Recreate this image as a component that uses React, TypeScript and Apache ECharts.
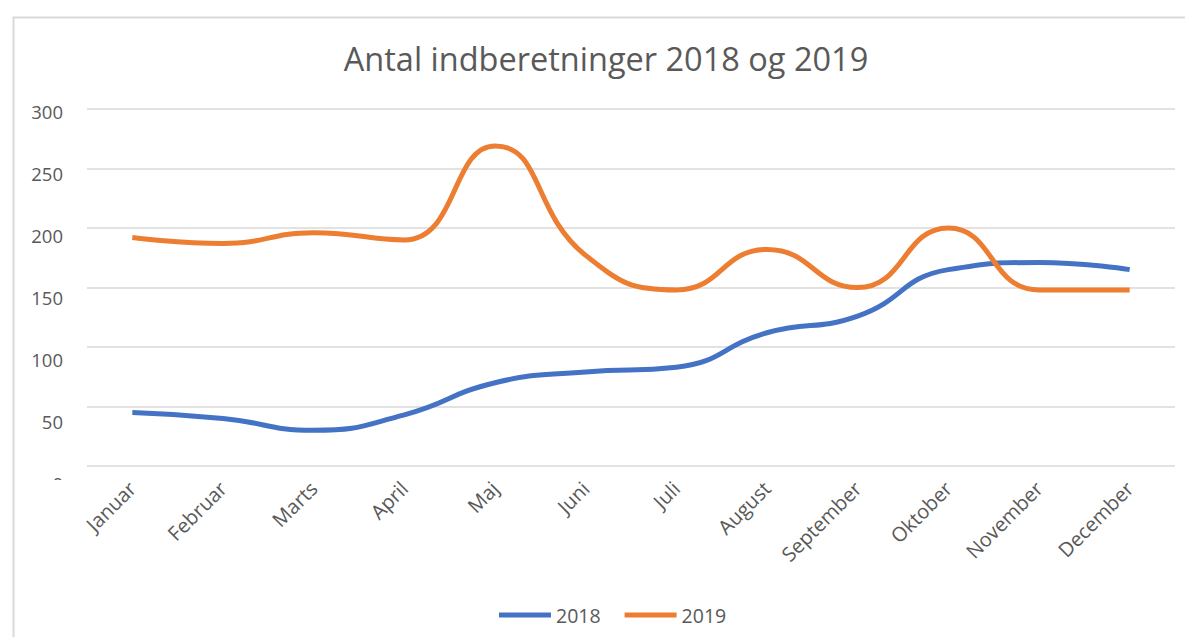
import React, { useEffect, useRef } from "react";
import * as echarts from "echarts";

const categories = ["Januar", "Februar", "Marts", "April", "Maj", "Juni", "Juli", "August", "September", "Oktober", "November", "December"];
const series2018 = [45, 40, 30, 43, 70, 79, 83, 112, 126, 165, 171, 165];
const series2019 = [192, 187, 196, 190, 269, 177, 148, 182, 150, 200, 148, 148];
const yTicks = [0, 50, 100, 150, 200, 250, 300];

const FONT = "'Open Sans', 'Noto Sans', sans-serif";
const TEXT = "#595959";
const GRIDC = "#d9d9d9";

export default function App() {
  const ref = useRef<HTMLDivElement>(null);
  useEffect(() => {
    const chart = echarts.init(ref.current!, null, { renderer: "svg" });
    chart.setOption({
      animation: false,
      backgroundColor: "#fff",
      textStyle: { fontFamily: FONT },
      title: {
        text: "Antal indberetninger 2018 og 2019",
        left: 601,
        textAlign: "center",
        top: 37,
        textStyle: { fontFamily: FONT, fontSize: 32.5, fontWeight: "normal", color: TEXT },
      },
      legend: {
        data: ["2018", "2019"],
        left: 494,
        top: 600,
        icon: "rect",
        itemWidth: 52,
        itemHeight: 5,
        itemGap: 24,
        textStyle: { fontFamily: FONT, fontSize: 19.5, color: TEXT },
      },
      grid: [
        { left: 87, right: 10, top: 109, bottom: 171 },
        { left: 87, right: 10, top: 111, bottom: 154 },
      ],
      xAxis: [
        {
          type: "category",
          gridIndex: 0,
          data: categories,
          boundaryGap: true,
          axisLine: { show: false },
          axisTick: { show: false },
          axisLabel: {
            rotate: 45,
            margin: 19,
            interval: 0,
            fontFamily: FONT,
            fontSize: 20,
            color: TEXT,
          },
        },
        { type: "category", gridIndex: 1, data: categories, show: false },
      ],
      yAxis: [
        {
          type: "value",
          gridIndex: 0,
          min: 0,
          max: 300,
          interval: 50,
          axisLine: { show: false },
          axisTick: { show: false },
          axisLabel: { show: false },
          splitLine: { show: true, lineStyle: { color: GRIDC, width: 1.5 } },
        },
        {
          type: "value",
          gridIndex: 1,
          min: yTicks[0],
          max: yTicks[yTicks.length - 1],
          interval: 50,
          axisLine: { show: false },
          axisTick: { show: false },
          splitLine: { show: false },
          axisLabel: { margin: 24, fontFamily: FONT, fontSize: 18.5, color: TEXT },
        },
      ],
      graphic: [
        {
          type: "rect",
          left: 11,
          top: 15,
          shape: { width: 1200, height: 700 },
          style: { fill: "none", stroke: GRIDC, lineWidth: 2 },
          z: 0,
          silent: true,
        },
        {
          type: "rect",
          left: 20,
          top: 480,
          shape: { width: 50, height: 14 },
          style: { fill: "#fff" },
          z: 100,
          silent: true,
        },
      ],
      series: [
        {
          name: "2018",
          type: "line",
          data: series2018,
          smooth: 0.5,
          showSymbol: false,
          symbol: "none",
          lineStyle: { color: "#4472C4", width: 5 },
          itemStyle: { color: "#4472C4" },
        },
        {
          name: "2019",
          type: "line",
          data: series2019,
          smooth: 0.5,
          showSymbol: false,
          symbol: "none",
          lineStyle: { color: "#ED7D31", width: 5 },
          itemStyle: { color: "#ED7D31" },
        },
      ],
    });
    return () => chart.dispose();
  }, []);
  return (
    <div
      ref={ref}
      style={{ position: "fixed", left: 0, top: 0, width: 1185, height: 637 }}
    />
  );
}
